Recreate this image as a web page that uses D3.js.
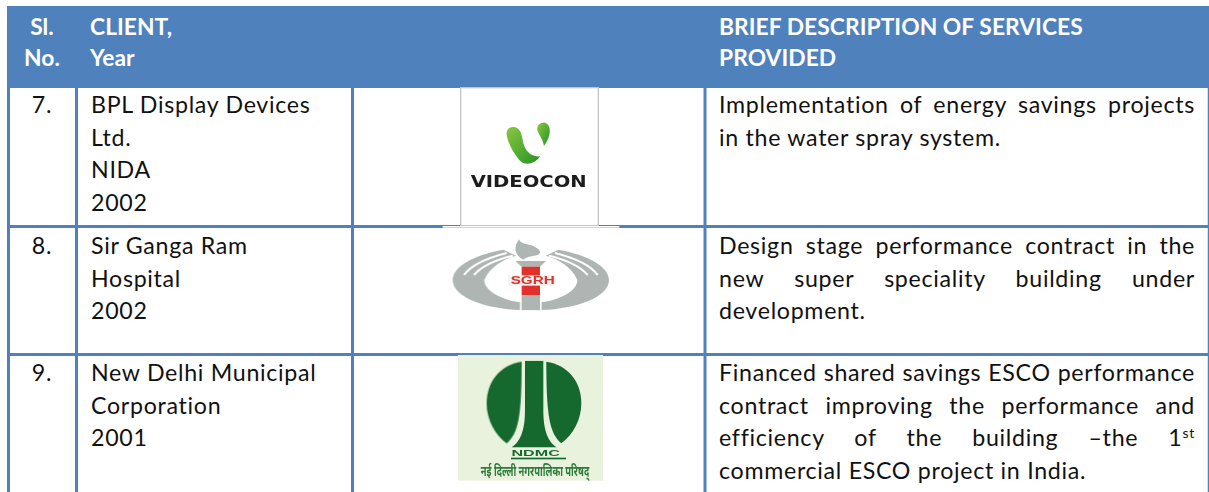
<!DOCTYPE html>
<html><head><meta charset="utf-8">
<script src="https://cdn.jsdelivr.net/npm/d3@7"></script>
<style>html,body{margin:0;padding:0;background:#fff;overflow:hidden}svg{display:block}</style>
</head><body><div id="c"></div>
<script>
const headerNo = ["Sl.", "No."];
const headerClient = ["CLIENT,", "Year"];
const headerDesc = ["BRIEF DESCRIPTION OF SERVICES", "PROVIDED"];
const serials = ["7.", "8.", "9."];
const clients = [
  ["BPL Display Devices", "Ltd.", "NIDA", "2002"],
  ["Sir Ganga Ram", "Hospital", "2002"],
  ["New Delhi Municipal", "Corporation", "2001"]
];
const descriptions = [
  ["Implementation of energy savings projects", "in the water spray system."],
  ["Design stage performance contract in the", "new super speciality building under", "development."],
  ["Financed shared savings ESCO performance", "contract improving the performance and", "efficiency of the building –the 1|st", "commercial ESCO project in India."]
];

const W = 1209, H = 492, BLUE = "#4f81bd", FONT = "Lato, 'Open Sans', sans-serif";
const vLines = [8.5, 76.5, 352.5, 705, 1208.5];
const hLines = [226.5, 354.5];
const rowBaseline = [113, 254, 381];
const svg = d3.select("#c").append("svg").attr("width", W).attr("height", H).attr("viewBox", `0 0 ${W} ${H}`);

svg.append("rect").attr("width", W).attr("height", H).attr("fill", "#fff");
const defs = svg.append("defs");
const grad = defs.append("linearGradient").attr("id", "vg").attr("x1", 0).attr("y1", 0).attr("x2", 1).attr("y2", 1);
grad.append("stop").attr("offset", 0).attr("stop-color", "#8cc63f");
grad.append("stop").attr("offset", 0.6).attr("stop-color", "#4aa92f");
grad.append("stop").attr("offset", 1).attr("stop-color", "#2f8f2a");
defs.append("filter").attr("id", "soft").append("feGaussianBlur").attr("stdDeviation", 0.9);
defs.append("filter").attr("id", "soft2").append("feGaussianBlur").attr("stdDeviation", 0.45);

// grid
svg.selectAll("line.v").data(vLines).join("line").attr("class", "v")
  .attr("x1", d => d).attr("x2", d => d).attr("y1", 88).attr("y2", H)
  .attr("stroke", BLUE).attr("stroke-width", (d, i) => i === 4 ? 1.5 : 3);
svg.selectAll("line.h").data(hLines).join("line").attr("class", "h")
  .attr("x1", 7).attr("x2", 1209).attr("y1", d => d).attr("y2", d => d)
  .attr("stroke", BLUE).attr("stroke-width", 3);
svg.append("rect").attr("x", 7).attr("y", 6).attr("width", W - 7).attr("height", 82).attr("fill", BLUE);

function textLines(g, lines, x, y0, opts = {}) {
  const lh = opts.lh || 32.6;
  g.selectAll(null).data(lines).join("text")
    .attr("x", x).attr("y", (d, i) => y0 + i * lh)
    .attr("font-family", FONT).attr("font-size", opts.size || 23.2)
    .attr("letter-spacing", opts.ls === undefined ? 0.7 : opts.ls)
    .attr("font-weight", opts.bold ? 700 : 400)
    .attr("fill", opts.fill || "#111")
    .attr("text-anchor", opts.anchor || "start")
    .each(function (d) {
      const sel = d3.select(this), parts = d.split("|");
      sel.append("tspan").text(parts[0]);
      if (parts[1]) sel.append("tspan").attr("dy", -8).attr("font-size", 14).text(parts[1]);
    });
}

// header
const head = svg.append("g");
const hOpts = { bold: true, fill: "#fff", size: 22.8, ls: 0.05, lh: 31.4 };
textLines(head, headerNo, 42, 34.5, { ...hOpts, anchor: "middle" });
textLines(head, headerClient, 90, 34.5, hOpts);
textLines(head, headerDesc, 719, 34.5, hOpts);

// body
serials.forEach((s, i) => {
  const g = svg.append("g");
  textLines(g, [s], 42, rowBaseline[i], { anchor: "middle" });
  textLines(g, clients[i], 91, rowBaseline[i]);
  const dg = svg.append("g");
  textLines(dg, descriptions[i], 719, rowBaseline[i]);
  dg.selectAll("text").each(function (d, j) {
    if (j === descriptions[i].length - 1) return;
    const n = d.split(" ").length - 1;
    const len = this.getComputedTextLength();
    d3.select(this).attr("word-spacing", (1195 - 719 - len) / n);
  });
});

// Videocon logo
const v = svg.append("g").attr("transform", "translate(440,80) scale(0.3333)");
v.append("rect").attr("x", 62).attr("y", 23).attr("width", 413).attr("height", 414)
  .attr("fill", "#fff").attr("stroke", "#c4c6c6").attr("stroke-width", 4);
const vm = v.append("g").attr("filter", "url(#soft)");
vm.append("path").attr("fill", "url(#vg)")
  .attr("d", "M300 229 C285 252 255 260 238 240 C220 218 204 190 200 165 C198 148 208 140 222 141 C238 143 245 158 248 180 C252 208 270 232 300 229Z");
vm.append("path").attr("fill", "url(#vg)")
  .attr("d", "M312 198 C308 175 296 165 292 150 C290 135 303 126 315 128 C328 132 332 148 328 165 C325 178 318 190 312 198Z");
vm.append("text").attr("x", 92).attr("y", 320).attr("font-family", "'DejaVu Sans', sans-serif").attr("font-weight", 700)
  .attr("font-size", 46).attr("textLength", 348).attr("lengthAdjust", "spacingAndGlyphs").attr("fill", "#1a1a1a").text("VIDEOCON");

// SGRH logo
const s = svg.append("g").attr("transform", "translate(440,225) scale(0.3333)");
s.append("rect").attr("x", 8).attr("y", 3).attr("width", 530).attr("height", 5).attr("fill", "#fff");
const sm = s.append("g").attr("filter", "url(#soft)");
const G = "#aeb5b3";
const wing = "M240 255 C140 252 38 218 38 165 C38 125 100 90 190 74 L228 92 C190 102 150 125 133 165 C133 200 190 225 240 232Z";
sm.append("path").attr("fill", G).attr("d", wing);
sm.append("path").attr("fill", G).attr("d", wing).attr("transform", "translate(545,0) scale(-1,1)");
[0, 1].forEach(k => {
  const st = sm.append("g").attr("fill", "none").attr("stroke", "#fff").attr("stroke-width", 6)
    .attr("transform", k ? "translate(545,0) scale(-1,1)" : null);
  st.append("path").attr("d", "M72 150 C95 118 145 98 200 84");
  st.append("path").attr("d", "M102 150 C125 122 165 105 218 92");
});
sm.append("path").attr("fill", G).attr("d", "M226 108 L318 108 L300 125 L245 125Z");
sm.append("rect").attr("x", 245).attr("y", 210).attr("width", 55).attr("height", 46).attr("fill", G);
sm.append("path").attr("fill", G).attr("d", "M250 104 C222 90 220 65 238 43 C240 58 265 56 284 65 C302 74 306 84 292 90 C278 94 262 94 250 104Z");
sm.append("rect").attr("x", 245).attr("y", 125).attr("width", 55).attr("height", 85).attr("fill", "#e0302a");
sm.append("rect").attr("x", 205).attr("y", 151).attr("width", 140).attr("height", 31).attr("fill", "#f3f2f0");
sm.append("text").attr("x", 278).attr("y", 178).attr("text-anchor", "middle").attr("font-family", "Liberation Sans, sans-serif")
  .attr("font-weight", 700).attr("font-size", 35).attr("textLength", 132).attr("lengthAdjust", "spacingAndGlyphs").attr("fill", "#e0302a").text("SGRH");

// NDMC logo
const n = svg.append("g").attr("transform", "translate(440,350) scale(0.3333)");
n.append("rect").attr("x", 54).attr("y", 15).attr("width", 435).attr("height", 377).attr("fill", "#e8f2dc");
const nm = n.append("g").attr("filter", "url(#soft2)");
const DG = "#17692f";
const seg = "M245 35 C180 45 140 95 140 160 C140 210 165 255 200 280 C235 250 245 200 245 35Z";
nm.append("path").attr("fill", DG).attr("d", seg);
nm.append("path").attr("fill", DG).attr("d", seg).attr("transform", "translate(564,0) scale(-1,1)");
nm.append("path").attr("fill", DG).attr("d", "M255 32 L310 32 L310 180 C310 245 325 275 350 292 L215 292 C240 275 255 245 255 180Z");
nm.append("text").attr("x", 287).attr("y", 317).attr("text-anchor", "middle").attr("font-family", "Liberation Sans, sans-serif")
  .attr("font-weight", 700).attr("font-size", 27).attr("textLength", 145).attr("lengthAdjust", "spacingAndGlyphs").attr("fill", DG).text("NDMC");
nm.append("rect").attr("x", 213).attr("y", 323).attr("width", 165).attr("height", 5).attr("fill", DG);
nm.append("text").attr("x", 285).attr("y", 378).attr("text-anchor", "middle").attr("font-family", "'Noto Sans', sans-serif")
  .attr("font-weight", 700).attr("font-size", 42).attr("textLength", 325).attr("lengthAdjust", "spacingAndGlyphs").attr("fill", "#2f7a3c").text("नई दिल्ली नगरपालिका परिषद्");
</script></body></html>
